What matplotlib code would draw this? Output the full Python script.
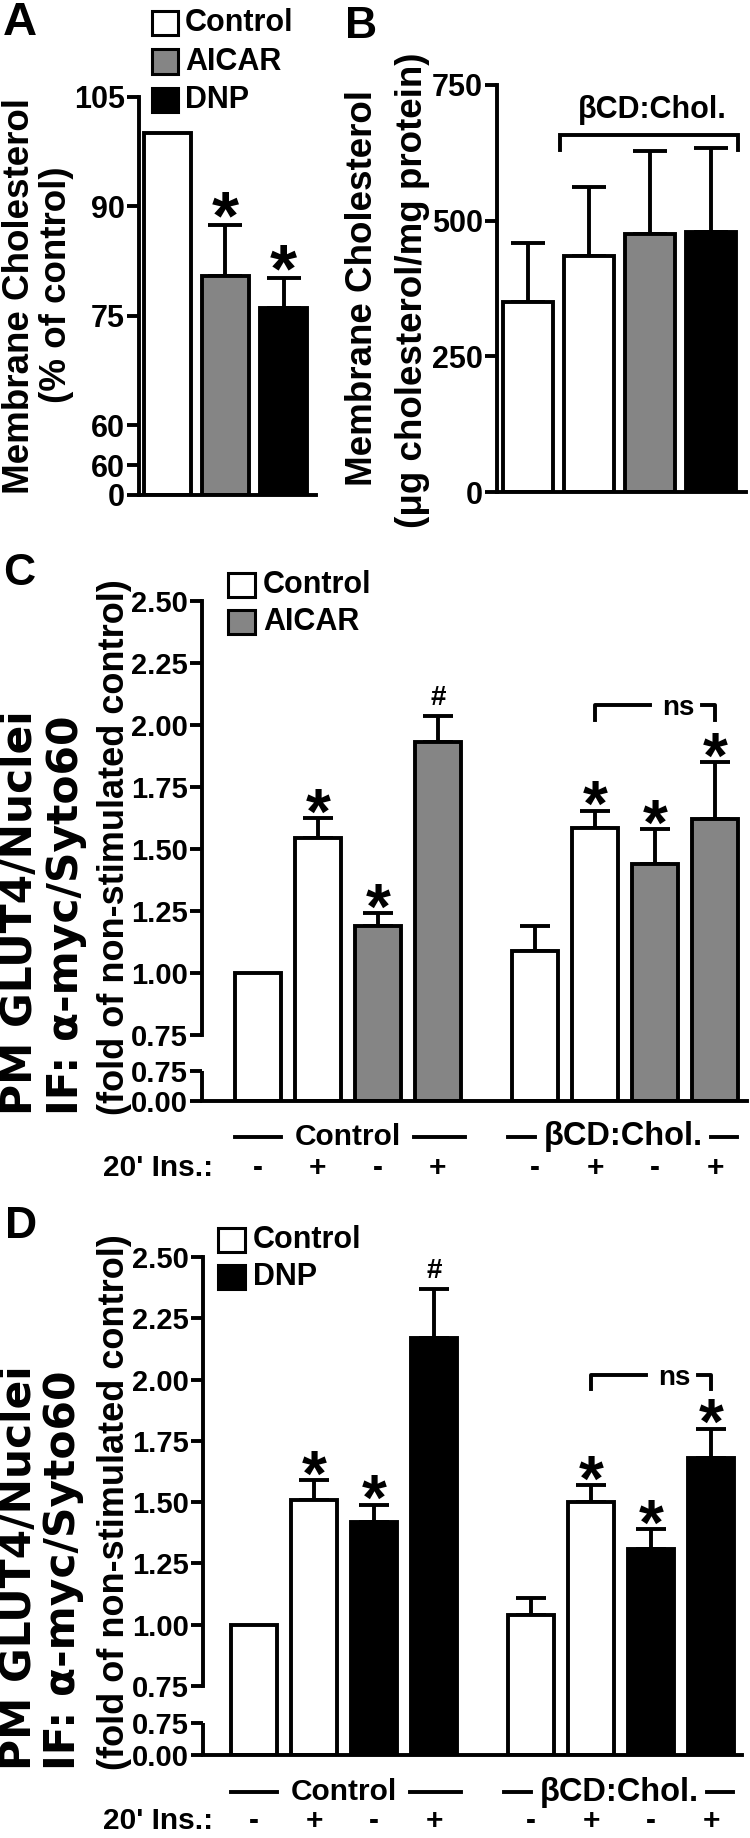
import numpy as np
import matplotlib
matplotlib.use('Agg')
import matplotlib.pyplot as plt
from matplotlib import transforms
from matplotlib.patches import Rectangle

plt.rcParams['font.family'] = ['Liberation Sans', 'DejaVu Sans']
plt.rcParams['font.weight'] = 'bold'

# ---------------- data ----------------
GRAY = '#858585'

a_labels = ['Control', 'AICAR', 'DNP']
a_values = [100.0, 80.4, 76.0]
a_errors = [0.0, 7.0, 4.1]
a_colors = ['white', GRAY, 'black']
a_marks = ['', '*', '*']
a_ticks = [0, 59.999, 60, 75, 90, 105]
a_ticklabels = ['0', '60', '60', '75', '90', '105']

b_values = [350, 435, 475, 480]
b_errors = [109, 127, 153, 154]
b_colors = ['white', 'white', GRAY, 'black']
b_ticks = [0, 250, 500, 750]
b_bracket_label = 'βCD:Chol.'

gd_ticks = [0.0, 0.7499, 0.75, 1.0, 1.25, 1.5, 1.75, 2.0, 2.25, 2.5]
gd_ticklabels = ['0.00', '0.75', '0.75', '1.00', '1.25', '1.50', '1.75', '2.00', '2.25', '2.50']

c_legend = ['Control', 'AICAR']
c_values = [1.00, 1.545, 1.19, 1.93, 1.09, 1.585, 1.44, 1.62]
c_errors = [0.0, 0.08, 0.05, 0.105, 0.10, 0.07, 0.14, 0.23]
c_colors = ['white', 'white', GRAY, GRAY, 'white', 'white', GRAY, GRAY]
c_marks = ['', '*', '*', '#', '', '*', '*', '*']

d_legend = ['Control', 'DNP']
d_values = [1.00, 1.51, 1.42, 2.17, 1.04, 1.50, 1.31, 1.68]
d_errors = [0.0, 0.08, 0.07, 0.20, 0.07, 0.07, 0.08, 0.12]
d_colors = ['white', 'white', 'black', 'black', 'white', 'white', 'black', 'black']
d_marks = ['', '*', '*', '#', '', '*', '*', '*']

group_labels = ['Control', 'βCD:Chol.']
ins_labels = ['-', '+', '-', '+', '-', '+', '-', '+']
ins_title = "20' Ins."
ylab_gd = ['PM GLUT4/Nuclei', 'IF: α-myc/Syto60', '(fold of non-stimulated control)']

# ---------------- layout helpers ----------------
W, H = 750, 1838
fig = plt.figure(figsize=(W / 100, H / 100), dpi=100)
fig.patch.set_facecolor('white')
LW = 2.8


def px_axes(l, t, r, b):
    return fig.add_axes([l / W, 1 - b / H, (r - l) / W, (b - t) / H])


def ftext(x, y, s, **kw):
    kw.setdefault('fontweight', 'bold')
    return fig.text(x / W, 1 - y / H, s, **kw)


def box(x, y, w, h, color):
    fig.add_artist(Rectangle((x / W, 1 - (y + h) / H), w / W, h / H,
                             transform=fig.transFigure, facecolor=color,
                             edgecolor='black', lw=2.2))


def broken_scale(brk, low_px, gap_px, slope):
    def fwd(y):
        y = np.asarray(y, dtype=float)
        return np.where(y < brk, y * low_px / brk, low_px + gap_px + (y - brk) * slope)

    def inv(v):
        v = np.asarray(v, dtype=float)
        return np.where(v < low_px, v * brk / low_px,
                        np.where(v < low_px + gap_px, brk,
                                 brk + (v - low_px - gap_px) / slope))
    return fwd, inv


def style(ax, ticks, labels, fs=22):
    for s in ['top', 'right']:
        ax.spines[s].set_visible(False)
    ax.spines['bottom'].set_linewidth(LW)
    ax.spines['left'].set_linewidth(LW)
    ax.spines['bottom'].set_capstyle('projecting')
    ax.set_yticks(ticks)
    ax.set_yticklabels(labels, fontweight='bold')
    ax.tick_params(axis='y', direction='out', length=8.5, width=LW,
                   labelsize=fs, pad=1.5)
    ax.set_xticks([])
    ax.patch.set_alpha(0)


def bars(ax, x, vals, errs, colors, width, capsize=11):
    ax.bar(x, vals, width=width, color=colors, edgecolor='black',
           linewidth=LW, zorder=2)
    sel = [i for i, e in enumerate(errs) if e > 0]
    xs = [x[i] for i in sel]
    vs = [vals[i] for i in sel]
    es = [errs[i] for i in sel]
    ax.errorbar(xs, vs, yerr=[np.zeros(len(es)), es], fmt='none',
                ecolor='black', elinewidth=LW, capsize=capsize,
                capthick=LW, zorder=1)


def marks(ax, x, vals, errs, mk, star_fs=46, star_off=-11.2, hash_fs=20):
    for xi, v, e, m in zip(x, vals, errs, mk):
        if not m:
            continue
        if m == '*':
            ax.annotate(m, xy=(xi, v + e), xytext=(0, star_off), textcoords='offset points',
                        ha='center', va='baseline', fontsize=star_fs,
                        fontweight='bold', annotation_clip=False)
        else:
            ax.annotate(m, xy=(xi, v + e), xytext=(0, 8), textcoords='offset points',
                        ha='center', va='baseline', fontsize=hash_fs,
                        fontweight='bold', annotation_clip=False)


# ================= Panel A =================
axA = px_axes(139, 97, 316, 495)
fA, iA = broken_scale(60, 30, 40, 7.29)
axA.set_yscale('function', functions=(fA, iA))
xa = np.arange(len(a_values))
bars(axA, xa, a_values, a_errors, a_colors, 0.81, capsize=12)
marks(axA, xa, a_values, a_errors, a_marks, star_fs=50, star_off=-9.5)
axA.set_xlim(-0.49, 2.56)
axA.set_ylim(0, 105)
style(axA, a_ticks, a_ticklabels)
ftext(20, 296, 'Membrane Cholesterol', rotation=90, ha='center', va='center', fontsize=26.5)
ftext(56, 285, '(% of control)', rotation=90, ha='center', va='center', fontsize=26.5)
ftext(3, 1, 'A', ha='left', va='top', fontsize=34)
for i, (lab, col) in enumerate(zip(a_labels, a_colors)):
    yc = 23 + i * 38.5
    box(152, yc - 12, 26, 24, col)
    ftext(185, yc, lab, ha='left', va='center', fontsize=22)

# ================= Panel B =================
axB = px_axes(497, 85, 746, 492)
xb = np.arange(len(b_values))
bars(axB, xb, b_values, b_errors, b_colors, 0.82, capsize=12)
axB.set_xlim(-0.51, 3.57)
axB.set_ylim(0, 750)
style(axB, b_ticks, [str(t) for t in b_ticks])
axB.plot([0.52, 0.52, 3.44, 3.44], [630, 658, 658, 630], color='black', lw=LW,
         clip_on=False, solid_joinstyle='miter')
axB.text(2.03, 704, b_bracket_label, ha='center', va='center', fontsize=22,
         fontweight='bold', clip_on=False)
ftext(363, 288, 'Membrane Cholesterol', rotation=90, ha='center', va='center', fontsize=26.5)
ftext(413, 290, '(μg cholesterol/mg protein)', rotation=90, ha='center', va='center', fontsize=26.5)
ftext(345, 6, 'B', ha='left', va='top', fontsize=32)


# ================= Panels C & D =================
def glut_panel(top, bottom, left, right, xlim, sc, vals, errs, cols, mk,
               leg_labels, leg_cols, leg_x, leg_y, letter, letter_xy,
               ns_y, ns_tick, row1, row2, ylab_bottom, ylab_x):
    ax = px_axes(left, top, right, bottom)
    f, i = broken_scale(*sc)
    ax.set_yscale('function', functions=(f, i))
    x = np.array([0, 1, 2, 3, 4.617, 5.617, 6.617, 7.617])
    bars(ax, x, vals, errs, cols, 0.77, capsize=10.5)
    marks(ax, x, vals, errs, mk)
    ax.set_xlim(*xlim)
    ax.set_ylim(0, 2.5)
    style(ax, gd_ticks, gd_ticklabels, fs=21)
    ax.spines['left'].set_visible(False)
    yt = ax.get_yaxis_transform()
    ax.plot([0, 0], [0, 0.7499], transform=yt, color='black', lw=LW,
            clip_on=False, solid_capstyle='butt')
    ax.plot([0, 0], [0.75, 2.5], transform=yt, color='black', lw=LW,
            clip_on=False, solid_capstyle='projecting')
    # ns bracket between bar 6 and bar 8
    ax.plot([x[5], x[5], x[5] + 0.92], [ns_tick, ns_y, ns_y], color='black', lw=LW,
            clip_on=False)
    ax.plot([x[7] - 0.22, x[7], x[7]], [ns_y, ns_y, ns_tick], color='black', lw=LW,
            clip_on=False)
    ax.text(x[7] - 0.62, ns_y, 'ns', ha='center', va='center_baseline', fontsize=20,
            fontweight='bold', clip_on=False)
    # bottom rows
    hpx = bottom - top
    bt = transforms.blended_transform_factory(ax.transData, ax.transAxes)
    y1 = -(row1 - bottom) / hpx
    y2 = -(row2 - bottom) / hpx
    ax.plot([-0.38, 0.38], [y1, y1], transform=bt, color='black', lw=LW, clip_on=False)
    ax.plot([2.6, 3.45], [y1, y1], transform=bt, color='black', lw=LW, clip_on=False)
    ax.text(1.5, y1, group_labels[0], transform=bt, ha='center', va='center',
            fontsize=21.5, fontweight='bold')
    ax.plot([4.17, 4.62], [y1, y1], transform=bt, color='black', lw=LW, clip_on=False)
    ax.plot([7.55, 7.98], [y1, y1], transform=bt, color='black', lw=LW, clip_on=False)
    ax.text(6.09, y1, group_labels[1], transform=bt, ha='center', va='center',
            fontsize=23.5, fontweight='bold')
    for xi, s in zip(x, ins_labels):
        ax.text(xi, y2, s, transform=bt, ha='center', va='center', fontsize=21.5,
                fontweight='bold')
    ftext(213, row2, ins_title + ':', ha='right', va='center', fontsize=21.5)
    # legend
    for k, (lab, col) in enumerate(zip(leg_labels, leg_cols)):
        yc = leg_y + k * 37
        box(leg_x, yc - 12, 27, 24, col)
        ftext(leg_x + 35, yc, lab, ha='left', va='center', fontsize=22)
    ftext(letter_xy[0], letter_xy[1], letter, ha='left', va='top', fontsize=32)
    # y label: first two lines are stretched in the reference -> wider face
    fams = [['DejaVu Sans'], ['DejaVu Sans'], ['Liberation Sans', 'DejaVu Sans']]
    sizes = [30.5, 30.5, 26]
    for lx, s, fam, fs in zip(ylab_x, ylab_gd, fams, sizes):
        ftext(lx, ylab_bottom, s, rotation=90, ha='center', va='bottom', fontsize=fs,
              family=fam)
    return ax


glut_panel(601, 1101, 202, 747, (-0.933, 8.15), (0.75, 30, 36, 248),
           c_values, c_errors, c_colors, c_marks, c_legend, ['white', GRAY],
           228, 585, 'C', (3, 553), 2.08, 2.02, 1137, 1168, 1115, [20, 66, 115])

glut_panel(1257, 1755, 203, 742, (-0.85, 8.13), (0.75, 32, 37, 245.3),
           d_values, d_errors, d_colors, d_marks, d_legend, ['white', 'black'],
           218, 1240, 'D', (5, 1206), 2.02, 1.96, 1792, 1821, 1770, [19, 63, 114])

fig.savefig('out.png', dpi=100, facecolor='white')
